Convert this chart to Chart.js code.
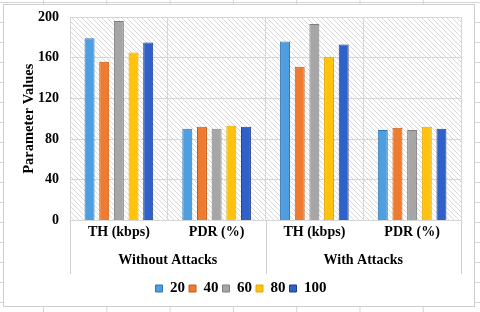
<!DOCTYPE html>
<html>
<head>
<meta charset="utf-8">
<script src="https://cdn.jsdelivr.net/npm/chart.js@4.4.0/dist/chart.umd.min.js"></script>
<style>
  html, body { margin: 0; padding: 0; }
  body {
    width: 480px; height: 312px; position: relative; overflow: hidden;
    background-color: #fff;
    background-image:
      linear-gradient(to right, #d4d4d4 1px, transparent 1px),
      linear-gradient(to bottom, #d4d4d4 1px, transparent 1px);
    background-size: 63.3px 20px;
    background-position: 43px 2px;
  }
  #box {
    position: absolute; left: 3px; top: 4px; width: 470px; height: 301px;
    background: #fff; border: 1px solid #cfcfcf;
  }
</style>
</head>
<body>
<div id="box"><canvas id="myChart" width="470" height="301"></canvas></div>
<script>
const categories = ['TH (kbps)', 'PDR (%)', 'TH (kbps)', 'PDR (%)'];
const groups = ['Without Attacks', 'With Attacks'];
const seriesNames = ['20', '40', '60', '80', '100'];

const s20 = [179, 90, 176, 89];
const s40 = [156, 92, 151, 91];
const s60 = [196, 90, 193, 89];
const s80 = [165, 93, 161, 92];
const s100 = [175, 92, 173, 90];

const yTicks = [0, 40, 80, 120, 160, 200];

const fills = ['#4f9fe0', '#ee7b2f', '#a6a6a6', '#ffc20e', '#2f61c8'];
const edges = ['#2e75b6', '#c55a11', '#7f7f7f', '#e0a800', '#1f3d8a'];
const allSeries = [s20, s40, s60, s80, s100];

const serif = "'Liberation Serif', 'Times New Roman', serif";

// hatched plot background
function makeHatch() {
    const c = document.createElement('canvas');
    c.width = 5; c.height = 5;
    const g = c.getContext('2d');
    g.strokeStyle = '#d8d8d8';
    g.lineWidth = 1;
    g.beginPath();
    g.moveTo(-1, -1); g.lineTo(6, 6);
    g.moveTo(-1, 4); g.lineTo(1, 6);
    g.moveTo(4, -1); g.lineTo(6, 1);
    g.stroke();
    return c;
}

const bgPlugin = {
    id: 'hatchBg',
    beforeDraw(chart) {
        const { ctx, chartArea: a } = chart;
        ctx.save();
        ctx.fillStyle = ctx.createPattern(makeHatch(), 'repeat');
        ctx.fillRect(a.left, a.top, a.right - a.left, a.bottom - a.top);
        ctx.restore();
    },
    afterDraw(chart) {
        // group separators below the plot
        const { ctx, chartArea: a } = chart;
        const x = chart.scales.x;
        const mid = (x.getPixelForValue(1) + x.getPixelForValue(2)) / 2;
        const end = chart.scales.x2.bottom - 3;
        ctx.save();
        ctx.strokeStyle = '#d0d0d0';
        ctx.lineWidth = 1;
        ctx.beginPath();
        [a.left, mid, a.right].forEach(px => {
            const p = Math.round(px) + 0.5;
            ctx.moveTo(p, a.bottom);
            ctx.lineTo(p, end);
        });
        ctx.stroke();
        ctx.restore();
    }
};

const ctx = document.getElementById('myChart').getContext('2d');
const myChart = new Chart(ctx, {
    type: 'bar',
    data: {
        labels: categories,
        datasets: seriesNames.map((name, i) => ({
            label: name,
            data: allSeries[i],
            backgroundColor: fills[i],
            borderColor: edges[i],
            borderWidth: 1,
            barPercentage: 0.68,
            categoryPercentage: 0.75
        }))
    },
    options: {
        responsive: false,
        animation: false,
        layout: { padding: { left: 17, right: 13, top: 1, bottom: 0 } },
        plugins: {
            legend: {
                position: 'bottom',
                labels: {
                    boxWidth: 7,
                    boxHeight: 7,
                    padding: 4,
                    color: '#000',
                    font: { family: serif, size: 15, weight: 'bold' }
                }
            },
            tooltip: { enabled: false }
        },
        scales: {
            x: {
                grid: { color: '#d6d6d6', drawTicks: false },
                border: { display: false },
                ticks: {
                    color: '#000',
                    padding: 4,
                    font: { family: serif, size: 14, weight: 'bold' }
                }
            },
            x2: {
                type: 'category',
                labels: groups,
                position: 'bottom',
                grid: { display: false, drawTicks: false },
                border: { display: false },
                afterFit: axis => { axis.height += 1; },
                ticks: {
                    color: '#000',
                    padding: 7,
                    font: { family: serif, size: 14, weight: 'bold' }
                }
            },
            y: {
                min: 0,
                max: 200,
                afterBuildTicks: axis => { axis.ticks = yTicks.map(v => ({ value: v })); },
                afterFit: axis => { axis.width = 49; axis.paddingTop = 12; axis.paddingBottom = 9; },
                grid: { color: '#d6d6d6', drawTicks: false },
                border: { display: false },
                ticks: {
                    color: '#000',
                    padding: 11,
                    font: { family: serif, size: 14, weight: 'bold' }
                },
                title: {
                    display: true,
                    text: 'Parameter Values',
                    color: '#000',
                    padding: { top: 0, bottom: 2 },
                    font: { family: serif, size: 14.5, weight: 'bold' }
                }
            }
        }
    },
    plugins: [bgPlugin]
});
</script>
</body>
</html>
